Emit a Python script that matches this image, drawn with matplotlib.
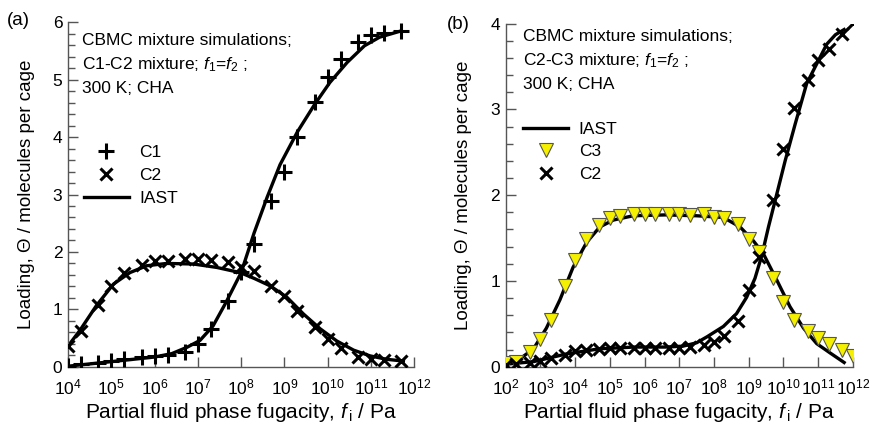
#!/usr/bin/env python3
"""CBMC mixture loadings vs IAST in CHA: C1-C2 and C2-C3 mixtures."""
import numpy as np
import matplotlib
matplotlib.use("Agg")
import matplotlib.pyplot as plt
from matplotlib.ticker import FixedLocator, MultipleLocator, LogFormatterMathtext

plt.rcParams['font.family'] = ['Liberation Sans', 'DejaVu Sans']
plt.rcParams['mathtext.fontset'] = 'custom'
plt.rcParams['mathtext.rm'] = 'Liberation Sans'
plt.rcParams['mathtext.it'] = 'Liberation Sans:italic'

# ---- panel (a): C1-C2 mixture, CBMC points at 1,2,5 per decade
f_a = [1e4, 2e4, 5e4, 1e5, 2e5, 5e5, 1e6, 2e6, 5e6, 1e7, 2e7, 5e7,
       1e8, 2e8, 5e8, 1e9, 2e9, 5e9, 1e10, 2e10, 5e10, 1e11, 2e11, 5e11]
c1_a = [0.01, 0.05, 0.07, 0.10, 0.14, 0.17, 0.18, 0.21, 0.26, 0.40, 0.65, 1.15,
        1.65, 2.13, 2.88, 3.40, 4.01, 4.61, 5.05, 5.36, 5.65, 5.77, 5.81, 5.85]
c2_a = [0.36, 0.63, 1.07, 1.40, 1.63, 1.78, 1.84, 1.85, 1.87, 1.87, 1.86, 1.83,
        1.74, 1.67, 1.41, 1.24, 0.97, 0.69, 0.49, 0.32, 0.17, 0.14, 0.12, 0.10]

# IAST curves (log10 f, loading)
iast_c1_logf = [4.0, 4.5, 5.0, 5.5, 6.0, 6.4, 6.75, 7.05, 7.35, 7.65, 8.0, 8.3,
                8.6, 8.9, 9.3, 9.7, 10.05, 10.45, 10.85, 11.2, 11.7]
iast_c1 = [0.01, 0.05, 0.09, 0.13, 0.17, 0.23, 0.34, 0.46, 0.71, 1.12, 1.64, 2.33,
           2.95, 3.52, 4.09, 4.57, 4.95, 5.30, 5.59, 5.74, 5.85]
iast_c2_logf = [4.0, 4.28, 4.66, 5.05, 5.43, 5.82, 6.28, 6.9, 7.44, 7.98, 8.3,
                8.67, 9.06, 9.44, 9.83, 10.21, 10.6, 10.98, 11.37, 11.75]
iast_c2 = [0.36, 0.64, 1.07, 1.44, 1.64, 1.76, 1.80, 1.79, 1.73, 1.64, 1.54,
           1.41, 1.21, 0.92, 0.66, 0.45, 0.29, 0.19, 0.13, 0.10]

# ---- panel (b): C2-C3 mixture
f_b = [1e2, 2e2, 5e2, 1e3, 2e3, 5e3, 1e4, 2e4, 5e4, 1e5, 2e5, 5e5, 1e6, 2e6, 5e6,
       1e7, 2e7, 5e7, 1e8, 2e8, 5e8, 1e9, 2e9, 5e9, 1e10, 2e10, 5e10, 1e11, 2e11,
       5e11, 1e12]
c3_b = [0.05, 0.06, 0.17, 0.32, 0.55, 0.94, 1.25, 1.49, 1.65, 1.73, 1.76, 1.78,
        1.78, 1.78, 1.78, 1.78, 1.77, 1.78, 1.74, 1.73, 1.66, 1.49, 1.34, 1.03,
        0.76, 0.55, 0.42, 0.33, 0.26, 0.19, 0.12]
c2_b = [0.02, 0.03, 0.05, 0.07, 0.10, 0.14, 0.18, 0.20, 0.21, 0.22, 0.22, 0.22,
        0.22, 0.22, 0.22, 0.22, 0.23, 0.25, 0.29, 0.36, 0.53, 0.89, 1.28, 1.94,
        2.54, 3.02, 3.34, 3.57, 3.70, 3.88, 4.01]

iast_c3b_logf = [2.0, 2.4, 2.8, 3.17, 3.56, 3.94, 4.33, 4.71, 5.1, 5.67, 6.6, 7.5,
                 8.27, 8.75, 9.13, 9.42, 9.81, 10.19, 10.58, 10.96, 11.35, 11.75]
iast_c3b = [0.04, 0.09, 0.21, 0.45, 0.78, 1.16, 1.45, 1.63, 1.71, 1.76, 1.77, 1.76,
            1.74, 1.63, 1.47, 1.32, 1.01, 0.70, 0.45, 0.27, 0.16, 0.05]
iast_c2b_logf = [2.0, 2.8, 3.75, 4.7, 5.7, 6.6, 7.1, 7.5, 7.8, 8.27, 8.65, 8.94,
                 9.18, 9.38, 9.57, 9.77, 10.05, 10.34, 10.67, 10.96, 11.25, 11.5, 11.75]
iast_c2b = [0.03, 0.06, 0.15, 0.21, 0.23, 0.23, 0.24, 0.28, 0.35, 0.47, 0.62, 0.81,
            1.03, 1.30, 1.63, 1.95, 2.40, 2.83, 3.30, 3.53, 3.76, 3.87, 3.93]

LW = 2.4
XLABEL = r"Partial fluid phase fugacity, $\mathit{f}_{\,\mathrm{i}}$ / Pa"
YLABEL = "Loading, Θ / molecules per cage"


def style_axes(ax, xmin, xmax, ymax):
    ax.set_xscale('log')
    ax.set_xlim(xmin, xmax)
    ax.set_ylim(0, ymax)
    for s in ('top', 'right'):
        ax.spines[s].set_visible(False)
    for s in ('left', 'bottom'):
        ax.spines[s].set_linewidth(1.0)
        ax.spines[s].set_color('#555555')
    decades = [10.0 ** k for k in range(int(np.log10(xmin)), int(np.log10(xmax)) + 1)]
    ax.xaxis.set_major_locator(FixedLocator(decades))
    ax.xaxis.set_minor_locator(FixedLocator([]))
    ax.xaxis.set_major_formatter(LogFormatterMathtext())
    ax.yaxis.set_major_locator(MultipleLocator(1))
    ax.yaxis.set_minor_locator(MultipleLocator(0.2))
    ax.tick_params(axis='both', which='major', direction='in', length=7, width=1.0,
                   color='#555555', labelsize=12.5, pad=4)
    ax.tick_params(axis='x', which='major', pad=8)
    ax.tick_params(axis='y', which='minor', direction='in', length=5, width=1.0,
                   color='#555555')
    ax.set_xlabel(XLABEL, fontsize=15, labelpad=2)
    ax.set_ylabel(YLABEL, fontsize=13.5, labelpad=13)
    ax.patch.set_visible(False)


fig = plt.figure(figsize=(8.72, 4.28), dpi=100)
ax1 = fig.add_axes([0.078, 0.143, 0.397, 0.805])
ax2 = fig.add_axes([0.580, 0.143, 0.398, 0.802])

# panel (a)
ax1.plot(f_a, c1_a, ls='none', marker='+', ms=11, mew=2.2, color='black',
         label='C1', zorder=3)
ax1.plot(f_a, c2_a, ls='none', marker='x', ms=8.5, mew=2.2, color='black',
         label='C2', zorder=3)
ax1.plot(10 ** np.array(iast_c1_logf), iast_c1, '-', color='black', lw=LW,
         label='IAST', zorder=2)
ax1.plot(10 ** np.array(iast_c2_logf), iast_c2, '-', color='black', lw=LW, zorder=2)
style_axes(ax1, 1e4, 1e12, 6)
ax1.legend(loc='upper left', bbox_to_anchor=(0.0, 0.69), frameon=False,
           fontsize=12.5, handlelength=2.6, handletextpad=0.6, labelspacing=0.45)
ax1.text(0.04, 0.97, "CBMC mixture simulations;\n"
         r"C1-C2 mixture; $\mathit{f}_1$=$\mathit{f}_2$ ;" "\n300 K; CHA",
         transform=ax1.transAxes, ha='left', va='top', fontsize=12.5,
         linespacing=1.55)
fig.text(0.008, 0.952, "(a)", fontsize=13.5, ha='left', va='center')

# panel (b)
ax2.plot(10 ** np.array(iast_c3b_logf), iast_c3b, '-', color='black', lw=LW,
         label='IAST', zorder=2)
ax2.plot(10 ** np.array(iast_c2b_logf), iast_c2b, '-', color='black', lw=LW, zorder=2)
ax2.plot(f_b, c3_b, ls='none', marker='v', ms=9.5, mfc='#f5f000', mec='#555555',
         mew=0.8, label='C3', zorder=3)
ax2.plot(f_b, c2_b, ls='none', marker='x', ms=8.5, mew=2.2, color='black',
         label='C2', zorder=3)
style_axes(ax2, 1e2, 1e12, 4)
ax2.legend(loc='upper left', bbox_to_anchor=(0.005, 0.76), frameon=False,
           fontsize=12.5, handlelength=2.6, handletextpad=0.6, labelspacing=0.42)
ax2.text(0.05, 0.985, "CBMC mixture simulations;\n"
         r"C2-C3 mixture; $\mathit{f}_1$=$\mathit{f}_2$ ;" "\n300 K; CHA",
         transform=ax2.transAxes, ha='left', va='top', fontsize=12.5,
         linespacing=1.55)
fig.text(0.512, 0.943, "(b)", fontsize=13.5, ha='left', va='center')

fig.savefig("out.png", dpi=100)
plt.close(fig)
